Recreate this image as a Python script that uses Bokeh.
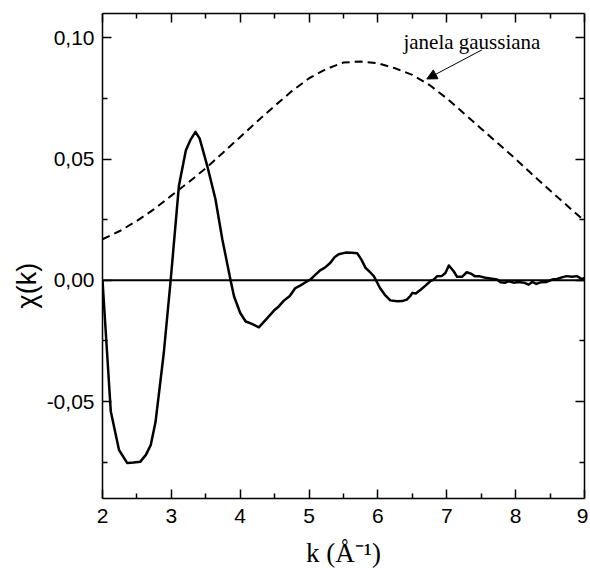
import math
from bokeh.plotting import figure
from bokeh.models import (LinearAxis, FixedTicker, Range1d, Label, Arrow, NormalHead, Span, Title)
from bokeh.embed import file_html
from bokeh.resources import INLINE

# --- data ---
k_chi = [2.00, 2.06, 2.12, 2.24, 2.36, 2.45, 2.55, 2.63, 2.70, 2.77, 2.89, 2.99, 3.11, 3.21,
         3.28, 3.35, 3.41, 3.45, 3.52, 3.64, 3.74, 3.86, 3.91, 4.00, 4.08, 4.17, 4.27, 4.38,
         4.49, 4.56, 4.63, 4.72, 4.80, 4.87, 4.95, 5.02, 5.09, 5.16, 5.23, 5.31, 5.37, 5.43,
         5.53, 5.62, 5.70, 5.76, 5.82, 5.88, 5.94, 6.03, 6.10, 6.18, 6.28, 6.35, 6.42, 6.47,
         6.50, 6.55, 6.62, 6.69, 6.76, 6.81, 6.86, 6.93, 6.98, 7.03, 7.10, 7.15, 7.22, 7.29,
         7.36, 7.41, 7.48, 7.56, 7.63, 7.73, 7.78, 7.85, 7.90, 7.97, 8.04, 8.12, 8.19, 8.24,
         8.30, 8.37, 8.45, 8.53, 8.60, 8.67, 8.74, 8.82, 8.89, 8.96, 9.00]
chi = [0.0, -0.027, -0.054, -0.070, -0.0754, -0.0752, -0.0748, -0.072, -0.068, -0.0585,
       -0.030, 0.000, 0.039, 0.0535, 0.058, 0.0612, 0.0585, 0.0545, 0.0473, 0.0335, 0.0169,
       0.000, -0.0066, -0.0135, -0.017, -0.018, -0.0194, -0.016, -0.0125, -0.0108, -0.0085,
       -0.0065, -0.0032, -0.0022, -0.0008, 0.0003, 0.0022, 0.0041, 0.0052, 0.0072, 0.0095,
       0.0107, 0.0114, 0.0113, 0.0111, 0.0085, 0.0051, 0.0035, 0.0017, -0.0032, -0.006,
       -0.0083, -0.0087, -0.0086, -0.008, -0.0065, -0.0052, -0.0055, -0.0039, -0.0022,
       -0.0004, 0.0003, 0.0017, 0.0018, 0.003, 0.0061, 0.0037, 0.0014, 0.0014, 0.0033,
       0.0026, 0.0016, 0.0016, 0.001, 0.0007, 0.0003, -0.0008, -0.001, -0.0004, -0.001,
       -0.0007, -0.001, -0.0018, -0.0007, -0.0015, -0.0008, -0.0007, 0.0003, 0.0005, 0.0012,
       0.0017, 0.0014, 0.0017, 0.0005, 0.001]

k_win = [2.0, 2.25, 2.5, 2.75, 3.0, 3.25, 3.5, 3.75, 4.0, 4.25, 4.5, 4.75, 5.0, 5.25, 5.5,
         5.75, 6.0, 6.25, 6.5, 6.75, 7.0, 7.25, 7.5, 7.75, 8.0, 8.25, 8.5, 8.75, 9.0]
window = [0.0169, 0.0203, 0.0245, 0.0293, 0.0349, 0.0404, 0.0462, 0.0526, 0.0591, 0.0656,
          0.0719, 0.078, 0.0833, 0.0871, 0.0898, 0.0902, 0.0895, 0.0874, 0.0847, 0.0805,
          0.075, 0.0688, 0.0625, 0.0563, 0.050, 0.0434, 0.037, 0.0307, 0.0245]

x_ticks = [2, 3, 4, 5, 6, 7, 8, 9]
x_minor = [2.5, 3.5, 4.5, 5.5, 6.5, 7.5, 8.5]
y_ticks = [-0.05, 0.0, 0.05, 0.10]
y_minor = [-0.075, -0.025, 0.025, 0.075]
y_tick_labels = ["-0,05", "0,00", "0,05", "0,10"]

annot_text = "janela gaussiana"
xlabel = "k (Å⁻¹)"
ylabel = "χ(k)"

TICK_FONT = "Liberation Sans"

p = figure(width=588, height=575, output_backend="svg", toolbar_location=None,
           x_range=Range1d(2, 9), y_range=Range1d(-0.09, 0.11),
           x_axis_location=None, y_axis_location=None,
           min_border_left=102, min_border_right=4, min_border_top=13, min_border_bottom=77)
p.grid.visible = False
p.outline_line_color = None
p.background_fill_color = "white"
p.border_fill_color = "white"

def style_axis(ax, labels=True):
    ax.major_tick_in = 9
    ax.major_tick_out = 0
    ax.minor_tick_in = 5
    ax.minor_tick_out = 0
    ax.axis_line_width = 1.5
    ax.major_tick_line_width = 1.5
    ax.minor_tick_line_width = 1.5
    ax.axis_line_color = "black"
    ax.major_tick_line_color = "black"
    ax.minor_tick_line_color = "black"
    if labels:
        ax.major_label_text_font = TICK_FONT
        ax.major_label_text_font_size = "21px"
        ax.major_label_text_color = "black"
    else:
        ax.major_label_text_font_size = "1px"
        ax.major_label_text_color = None
        ax.major_label_standoff = 0

xt = FixedTicker(ticks=x_ticks, minor_ticks=x_minor)
yt = FixedTicker(ticks=y_ticks, minor_ticks=y_minor)

bx = LinearAxis(ticker=xt)
style_axis(bx)
bx.major_label_standoff = 10
bx.axis_label = xlabel
bx.axis_label_text_font = "Liberation Serif"
bx.axis_label_text_font_size = "27px"
bx.axis_label_text_font_style = "normal"
bx.axis_label_text_color = "black"
bx.axis_label_standoff = 12
p.add_layout(bx, "below")

tx = LinearAxis(ticker=xt)
style_axis(tx, labels=False)
p.add_layout(tx, "above")

ly = LinearAxis(ticker=yt)
style_axis(ly)
ly.major_label_standoff = 8
ly.major_label_overrides = {t: s for t, s in zip(y_ticks, y_tick_labels)}
p.add_layout(ly, "left")

ry = LinearAxis(ticker=yt)
style_axis(ry, labels=False)
p.add_layout(ry, "right")

# y-axis label as a left-side title, shifted to sit at the zero line
p.add_layout(Title(text=ylabel, align="left", offset=190, text_font="Liberation Sans",
                   text_font_size="27px", text_font_style="normal", text_color="black",
                   standoff=4), "left")

# zero line
p.add_layout(Span(location=0, dimension="width", line_color="black", line_width=2))

# gaussian window
p.line(k_win, window, line_color="black", line_width=2, line_dash="8 5")
# chi(k)
p.line(k_chi, chi, line_color="black", line_width=2.5, line_join="round")

p.add_layout(Label(x=6.37, y=0.0982, text=annot_text, text_font="Liberation Serif",
                   text_font_size="21px", text_baseline="alphabetic", text_color="black"))
p.add_layout(Arrow(x_start=7.51, y_start=0.095, x_end=6.71, y_end=0.083, line_width=1,
                   end=NormalHead(size=10, fill_color="black", line_color="black")))

open("out.html", "w").write(file_html(p, INLINE))
